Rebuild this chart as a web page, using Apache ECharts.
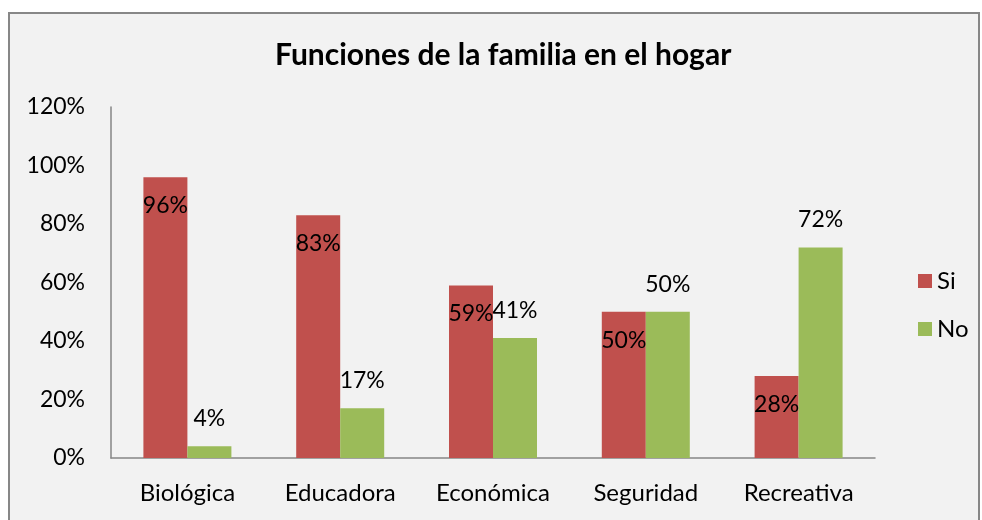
<!DOCTYPE html>
<html>
<head>
<meta charset="utf-8">
<script src="https://cdn.jsdelivr.net/npm/echarts@6/dist/echarts.min.js"></script>
<style>
  html, body { margin: 0; padding: 0; background: #ffffff; width: 982px; height: 520px; overflow: hidden; }
  #frame { position: absolute; left: 8px; top: 12px; width: 968px; height: 530px; border: 2px solid #878787; background: #F2F2F2; }
  #chart { position: absolute; left: 0; top: 0; width: 982px; height: 520px; }
</style>
</head>
<body>
<div id="frame"></div>
<div id="chart"></div>
<script>
const categories = ['Biológica', 'Educadora', 'Económica', 'Seguridad', 'Recreativa'];
const siValues = [96, 83, 59, 50, 28];
const noValues = [4, 17, 41, 50, 72];
const yTicks = { min: 0, max: 120, interval: 20 };

const FONT = 'Lato';
const chart = echarts.init(document.getElementById('chart'), null, { renderer: 'canvas' });
chart.setOption({
  backgroundColor: 'transparent',
  animation: false,
  title: {
    text: 'Funciones de la familia en el hogar',
    left: 270,
    top: 35,
    textStyle: { fontFamily: FONT, fontSize: 30, fontWeight: 'bold', color: '#000' }
  },
  legend: {
    orient: 'vertical',
    left: 913,
    top: 264,
    itemWidth: 14,
    itemHeight: 14,
    itemGap: 24,
    icon: 'rect',
    textStyle: { fontFamily: FONT, fontSize: 24, color: '#000' },
    data: ['Si', 'No']
  },
  grid: { left: 111, right: 107, top: 107, bottom: 62, containLabel: false },
  xAxis: {
    type: 'category',
    data: categories,
    axisLine: { lineStyle: { color: '#868686', width: 1.5 } },
    axisTick: { show: false },
    axisLabel: { fontFamily: FONT, fontSize: 24, color: '#000', margin: 23 }
  },
  yAxis: {
    type: 'value',
    min: yTicks.min, max: yTicks.max, interval: yTicks.interval,
    axisLine: { show: true, lineStyle: { color: '#868686', width: 1.5 } },
    axisTick: { show: false },
    splitLine: { show: false },
    axisLabel: { fontFamily: FONT, fontSize: 23, color: '#000', margin: 26, formatter: '{value}%' }
  },
  series: [
    {
      name: 'Si', type: 'bar', data: siValues, barWidth: 44, barGap: '0%',
      itemStyle: { color: '#C0504D' },
      label: { show: true, position: 'insideTop', distance: 17, formatter: '{c}%', fontFamily: FONT, fontSize: 23, color: '#000' }
    },
    {
      name: 'No', type: 'bar', data: noValues, barWidth: 44, barGap: '0%',
      itemStyle: { color: '#9BBB59' },
      label: { show: true, position: 'top', distance: 16, formatter: '{c}%', fontFamily: FONT, fontSize: 23, color: '#000' }
    }
  ]
});
</script>
</body>
</html>
